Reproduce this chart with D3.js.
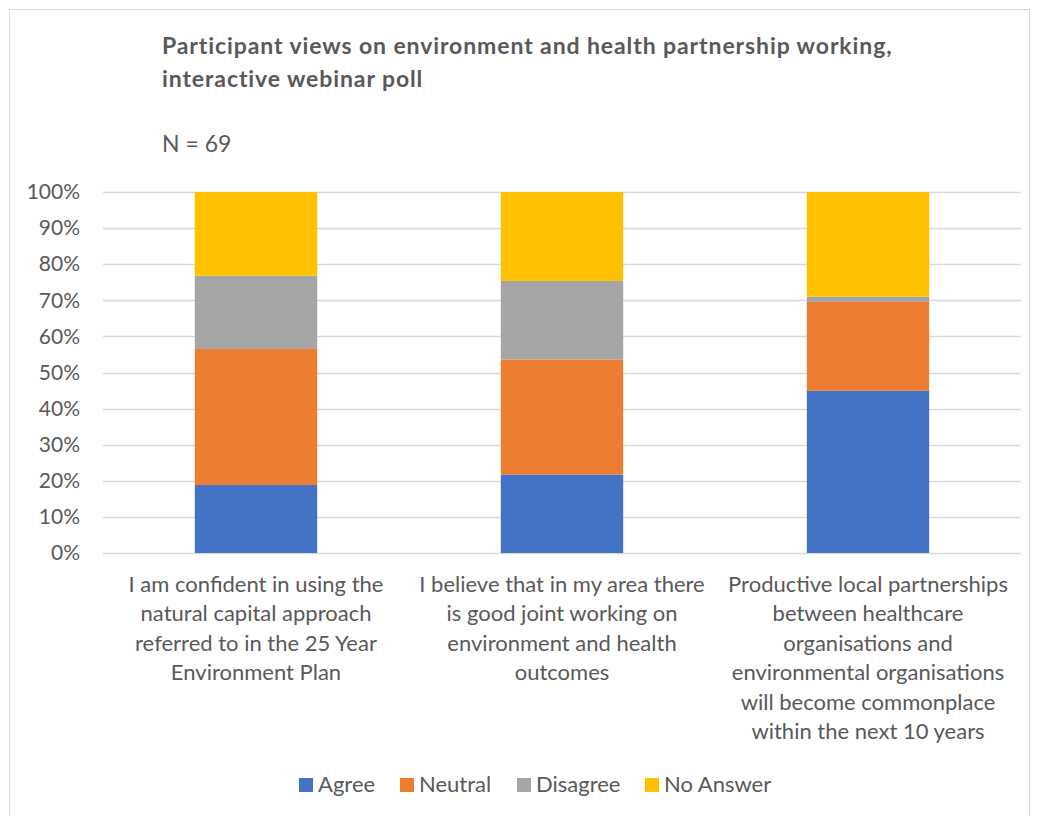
<!DOCTYPE html>
<html>
<head>
<meta charset="utf-8">
<script src="https://cdn.jsdelivr.net/npm/d3@7"></script>
<style>
    body { margin: 0; background: #fff; }
    svg text { font-family: Lato, "Noto Sans", sans-serif; fill: #595959; }
</style>
</head>
<body>
<svg id="chart" width="1039" height="816"></svg>
<script>
// poll counts (N = 69)
var total = 69;
var categories = [
    ["I am confident in using the", "natural capital approach", "referred to in the 25 Year", "Environment Plan"],
    ["I believe that in my area there", "is good joint working on", "environment and health", "outcomes"],
    ["Productive local partnerships", "between healthcare", "organisations and", "environmental organisations", "will become commonplace", "within the next 10 years"]
];
var seriesNames = ["Agree", "Neutral", "Disagree", "No Answer"];
var agree = [13, 15, 31];
var neutral = [26, 22, 17];
var disagree = [14, 15, 1];
var noAnswer = [16, 17, 20];
var colors = ["#4472C4", "#ED7D31", "#A5A5A5", "#FFC000"];
var yTicks = [0, 0.1, 0.2, 0.3, 0.4, 0.5, 0.6, 0.7, 0.8, 0.9, 1];

var draw = {
    buildRows: function() {
        var rows = [];
        for (var i = 0; i < categories.length; i++) {
            rows.push({
                idx: i,
                "Agree": agree[i] / total,
                "Neutral": neutral[i] / total,
                "Disagree": disagree[i] / total,
                "No Answer": noAnswer[i] / total
            });
        }
        return rows;
    },

    drawD3: function() {
        var svg = d3.select("#chart");
        var rows = draw.buildRows();

        var margin = {top: 192, right: 18, bottom: 263, left: 103};
        var width = 1039 - margin.left - margin.right,
            height = 816 - margin.top - margin.bottom;

        // outer frame
        svg.append("rect")
            .attr("x", 9.5).attr("y", 9.5)
            .attr("width", 1020).attr("height", 820)
            .attr("fill", "none")
            .attr("stroke", "#d9d9d9");

        svg.append("text")
            .attr("x", 162).attr("y", 54)
            .style("font-size", "23px").style("font-weight", "bold")
            .style("letter-spacing", "0.9px")
            .text("Participant views on environment and health partnership working,");
        svg.append("text")
            .attr("x", 162).attr("y", 87)
            .style("font-size", "23px").style("font-weight", "bold")
            .style("letter-spacing", "0.9px")
            .text("interactive webinar poll");
        svg.append("text")
            .attr("x", 162).attr("y", 152)
            .style("font-size", "23px")
            .text("N = 69");

        var g = svg.append("g")
            .attr("transform", "translate(" + margin.left + "," + margin.top + ")");

        var x = d3.scaleBand()
            .domain(rows.map(function(d) { return d.idx; }))
            .range([0, width])
            .paddingInner(0.6)
            .paddingOuter(0.3);
        var y = d3.scaleLinear()
            .domain([0, 1])
            .range([height, 0]);

        // gridlines
        g.append("g")
            .selectAll("line")
            .data(yTicks)
            .enter().append("line")
            .attr("x1", 0).attr("x2", width)
            .attr("y1", function(d) { return Math.round(y(d)) + 0.5; })
            .attr("y2", function(d) { return Math.round(y(d)) + 0.5; })
            .attr("stroke", "#d9d9d9")
            .attr("stroke-width", 1.3);

        // y axis labels
        var yAxis = g.append("g")
            .call(d3.axisLeft(y).tickValues(yTicks).tickFormat(d3.format(".0%")).tickSize(0).tickPadding(23));
        yAxis.select(".domain").remove();
        yAxis.selectAll("text")
            .style("font-size", "21px")
            .attr("fill", "#595959")
            .style("font-family", "Lato, 'Noto Sans', sans-serif");

        var stack = d3.stack().keys(seriesNames);
        var layers = stack(rows);

        g.selectAll(".layer")
            .data(layers)
            .enter().append("g")
            .attr("class", "layer")
            .attr("fill", function(d, i) { return colors[i]; })
            .selectAll("rect")
            .data(function(d) { return d; })
            .enter().append("rect")
            .attr("x", function(d) { return x(d.data.idx); })
            .attr("width", x.bandwidth())
            .attr("y", function(d) { return y(d[1]); })
            .attr("height", function(d) { return y(d[0]) - y(d[1]); });

        // category labels, wrapped as in the original
        var labels = g.append("g")
            .selectAll("text")
            .data(categories)
            .enter().append("text")
            .attr("text-anchor", "middle")
            .style("font-size", "22px")
            .attr("transform", function(d, i) {
                return "translate(" + (x(i) + x.bandwidth() / 2) + "," + (height + 39) + ")";
            });
        labels.selectAll("tspan")
            .data(function(d) { return d; })
            .enter().append("tspan")
            .attr("x", 0)
            .attr("y", function(d, i) { return i * 29.4; })
            .text(function(d) { return d; });

        // legend
        var legendX = [299, 400, 517, 645];
        var legend = svg.append("g")
            .selectAll("g")
            .data(seriesNames)
            .enter().append("g")
            .attr("transform", function(d, i) { return "translate(" + legendX[i] + ",778)"; });
        legend.append("rect")
            .attr("width", 14).attr("height", 14)
            .attr("fill", function(d, i) { return colors[i]; });
        legend.append("text")
            .attr("x", 19).attr("y", 14)
            .style("font-size", "22px")
            .text(function(d) { return d; });
    }
};

draw.drawD3();
</script>
</body>
</html>
